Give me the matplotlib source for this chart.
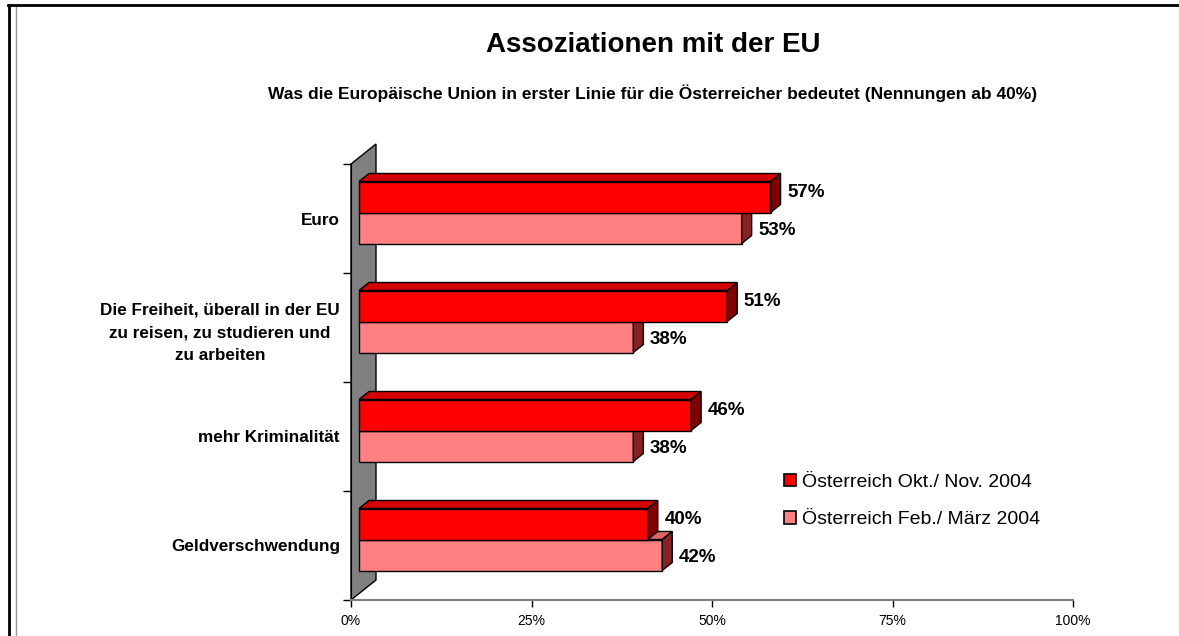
import matplotlib
matplotlib.use('Agg')
import matplotlib.pyplot as plt
from matplotlib.patches import Polygon, Patch
from matplotlib.lines import Line2D

# data
categories = ['Euro',
              'Die Freiheit, überall in der EU\nzu reisen, zu studieren und\nzu arbeiten',
              'mehr Kriminalität',
              'Geldverschwendung']
okt_nov_2004 = [57, 51, 46, 40]
feb_maerz_2004 = [53, 38, 38, 42]
series_labels = ['Österreich Okt./ Nov. 2004', 'Österreich Feb./ März 2004']
x_ticks = [0, 25, 50, 75, 100]
x_tick_labels = ['0%', '25%', '50%', '75%', '100%']

plt.rcParams['font.family'] = ['Liberation Sans', 'DejaVu Sans']

W, H = 1179, 636
fig = plt.figure(figsize=(W / 100, H / 100), dpi=100)
ax = fig.add_axes([351 / W, 1 - 600 / H, 722 / W, 436 / H])
n = len(categories)
ax.set_xlim(0, 100)
ax.set_ylim(0, n)

# helpers: pixel offsets -> data units (fixed axes size)
ax_w = ax.get_position().width * W
ax_h = ax.get_position().height * H


def dx(p):
    return p * 100 / ax_w


def dy(p):
    return p * n / ax_h


# gray side wall (3d look)
wall = Polygon([(0, 0), (0, n), (dx(25), n + dy(20)), (dx(25), dy(20))],
               closed=True, facecolor='#808080', edgecolor='black', lw=1,
               clip_on=False, zorder=1)
ax.add_patch(wall)

centers = [n - 0.5 - i for i in range(n)]
bar_h = dy(31)
sx, sy = dx(8), dy(6)    # bars sit a bit behind the front plane
bx, by = dx(10), dy(8)   # depth of the bars

styles = [
    # values, offset (in bar heights), front, top, side, zorder, label y-shift
    (feb_maerz_2004, -1, '#FF8080', '#E06666', '#862424', 2, -2),
    (okt_nov_2004, 0, '#FF0000', '#D40000', '#800000', 3, 3),
]

for values, off, c_front, c_top, c_side, z, lab_dy in styles:
    bottoms = [c + sy + off * bar_h for c in centers]
    ax.barh(bottoms, values, left=sx, height=bar_h, align='edge',
            color=c_front, edgecolor='black', lw=1, zorder=z)
    for b, v in zip(bottoms, values):
        t = b + bar_h
        top = Polygon([(sx, t), (sx + v, t), (sx + v + bx, t + by), (sx + bx, t + by)],
                      closed=True, facecolor=c_top, edgecolor='black', lw=1, zorder=z + 0.1)
        side = Polygon([(sx + v, b), (sx + v + bx, b + by), (sx + v + bx, t + by), (sx + v, t)],
                       closed=True, facecolor=c_side, edgecolor='black', lw=1, zorder=z + 0.1)
        ax.add_patch(top)
        ax.add_patch(side)
        ax.annotate(f'{v}%', xy=(sx + v, b + bar_h / 2), xytext=(12, lab_dy),
                    textcoords='offset points', ha='left', va='center',
                    fontsize=13.5, fontweight='bold', zorder=6)

# axes styling
for s in ['top', 'right']:
    ax.spines[s].set_visible(False)
ax.spines['left'].set_color('black')
ax.spines['bottom'].set_color('#808080')
ax.spines['bottom'].set_linewidth(1.5)

ax.set_xticks(x_ticks)
ax.set_xticklabels(x_tick_labels, fontsize=10)
ax.tick_params(axis='x', direction='out', length=5, width=1, color='black', pad=5)

ax.set_yticks(range(n + 1))
ax.set_yticklabels([])
ax.tick_params(axis='y', which='major', direction='out', length=5.8, width=1, color='black')
ax.set_yticks(centers, minor=True)
ax.set_yticklabels(categories, minor=True, fontsize=12.3, fontweight='bold')
ax.tick_params(axis='y', which='minor', length=0, pad=8)
for lbl in ax.get_yticklabels(minor=True):
    lbl.set_multialignment('center')
    lbl.set_linespacing(1.65)

# titles
fig.text(653 / W, 1 - 52 / H, 'Assoziationen mit der EU', ha='center', va='baseline',
         fontsize=20, fontweight='bold')
fig.text(653 / W, 1 - 99 / H,
         'Was die Europäische Union in erster Linie für die Österreicher bedeutet (Nennungen ab 40%)',
         ha='center', va='baseline', fontsize=12.5, fontweight='bold')

# legend
handles = [Patch(facecolor='#FF0000', edgecolor='black', lw=1.2),
           Patch(facecolor='#FF8080', edgecolor='black', lw=1.2)]
fig.legend(handles, series_labels, loc='upper left', bbox_to_anchor=(784 / W, 1 - 474 / H),
           frameon=False, fontsize=14, handlelength=0.6, handleheight=0.6,
           handletextpad=0.35, labelspacing=1.05, borderpad=0, borderaxespad=0)

# frame lines of the original sheet
fig.add_artist(Line2D([9 / W, 9 / W], [0, 1 - 5 / H], color='black', lw=2))
fig.add_artist(Line2D([16 / W, 16 / W], [0, 1 - 6 / H], color='#999999', lw=1))
fig.add_artist(Line2D([8 / W, 1], [1 - 5 / H, 1 - 5 / H], color='black', lw=2))

fig.savefig('out.png', dpi=100)
